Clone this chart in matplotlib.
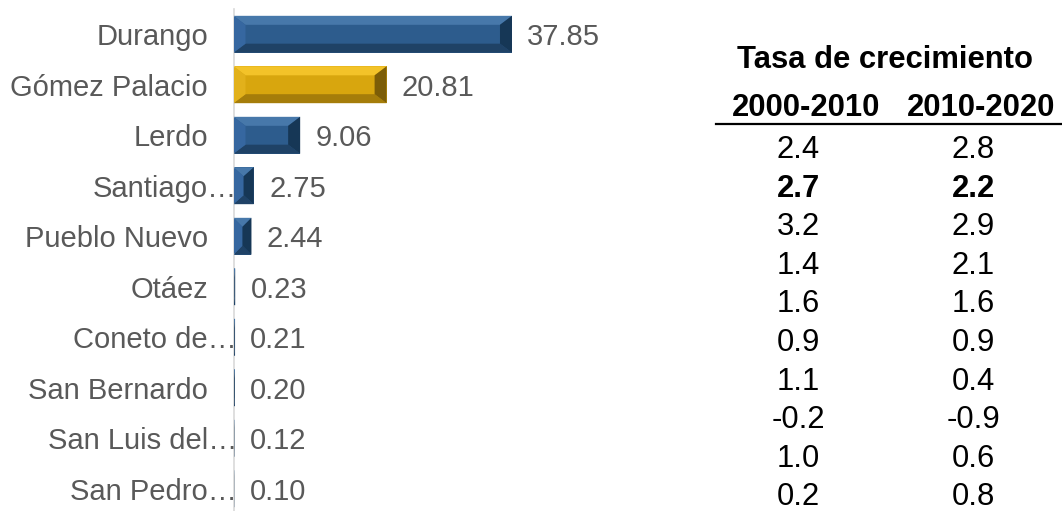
import matplotlib.pyplot as plt
from matplotlib.patches import Polygon

plt.rcParams['font.family'] = ['Liberation Sans', 'DejaVu Sans']

# datos de la grafica
municipios = ['Durango', 'Gómez Palacio', 'Lerdo', 'Santiago…', 'Pueblo Nuevo',
              'Otáez', 'Coneto de…', 'San Bernardo', 'San Luis del…', 'San Pedro…']
porcentaje = [37.85, 20.81, 9.06, 2.75, 2.44, 0.23, 0.21, 0.20, 0.12, 0.10]
resaltado = 'Gómez Palacio'

# datos de la tabla
titulo_tabla = 'Tasa de crecimiento'
periodos = ['2000-2010', '2010-2020']
tasa_2000_2010 = ['2.4', '2.7', '3.2', '1.4', '1.6', '0.9', '1.1', '-0.2', '1.0', '0.2']
tasa_2010_2020 = ['2.8', '2.2', '2.9', '2.1', '1.6', '0.9', '0.4', '-0.9', '0.6', '0.8']
fila_negrita = 1

W, H = 1062, 511
fig = plt.figure(figsize=(W / 100, H / 100), dpi=100)

def px(x, y):
    return x / W, 1 - y / H

# colores del bisel: cara, arriba, abajo, izquierda, derecha
azul = ['#2d5c8d', '#4778aa', '#1f4266', '#3667a0', '#163756']
oro = ['#d8a60e', '#f3c329', '#a57d0a', '#e2b11b', '#7c5d07']

ax = fig.add_axes([233.5 / W, -3 / H, 294.3 / W, 505 / H])
ax.set_xlim(0, 40)
ax.set_ylim(len(municipios) - 0.5, -0.5)
for s in ['top', 'right', 'bottom']:
    ax.spines[s].set_visible(False)
ax.spines['left'].set_color('#d9d9d9')
ax.spines['left'].set_linewidth(1.2)
ax.set_xticks([])
ax.set_yticks([])

alto = 0.73
h = alto / 2
px_x = 294.3 / 40
px_y = 50.5
for i, (m, v) in enumerate(zip(municipios, porcentaje)):
    c = oro if m == resaltado else azul
    ax.barh(i, v, height=alto, color=c[0], edgecolor='none', zorder=2)
    bx = min(12 / px_x, v / 2)
    by = min(9 / px_y, h)
    yt, yb = i - h, i + h
    partes = [
        ([(0, yt), (v, yt), (v - bx, yt + by), (bx, yt + by)], c[1]),
        ([(0, yb), (v, yb), (v - bx, yb - by), (bx, yb - by)], c[2]),
        ([(0, yt), (bx, yt + by), (bx, yb - by), (0, yb)], c[3]),
        ([(v, yt), (v - bx, yt + by), (v - bx, yb - by), (v, yb)], c[4]),
    ]
    for pts, col in partes:
        ax.add_patch(Polygon(pts, closed=True, facecolor=col, edgecolor='none', zorder=3))

    # etiqueta del valor
    ax.annotate(f'{v:.2f}', xy=(v, i), xytext=(11, -7.9), textcoords='offset points',
                ha='left', va='baseline', fontsize=21, color='#595959', annotation_clip=False)
    # etiqueta del municipio
    dx = 2.6 if m.endswith('…') else -18.4
    ax.annotate(m, xy=(0, i), xytext=(dx, -7.9), textcoords='offset points',
                ha='right', va='baseline', fontsize=21, color='#595959', annotation_clip=False)

# tabla de la derecha
fs = 22.3
fig.text(*px(885, 57.5 + 11), titulo_tabla, ha='center', va='baseline',
         fontsize=fs, fontweight='bold', color='black')
for x, p in zip([806.5, 981.5], periodos):
    fig.text(*px(x, 105.5 + 11), p, ha='center', va='baseline',
             fontsize=fs, fontweight='bold', color='black')
fig.add_artist(plt.Line2D([716 / W, 1.0], [1 - 124.5 / H, 1 - 124.5 / H],
                          color='black', linewidth=1.6))
for i, (a, b) in enumerate(zip(tasa_2000_2010, tasa_2010_2020)):
    y = 147 + 38.6 * i + 11
    peso = 'bold' if i == fila_negrita else 'normal'
    fig.text(*px(798.5, y), a, ha='center', va='baseline', fontsize=fs,
             fontweight=peso, color='black')
    fig.text(*px(973.5, y), b, ha='center', va='baseline', fontsize=fs,
             fontweight=peso, color='black')

fig.savefig('out.png', dpi=100)
